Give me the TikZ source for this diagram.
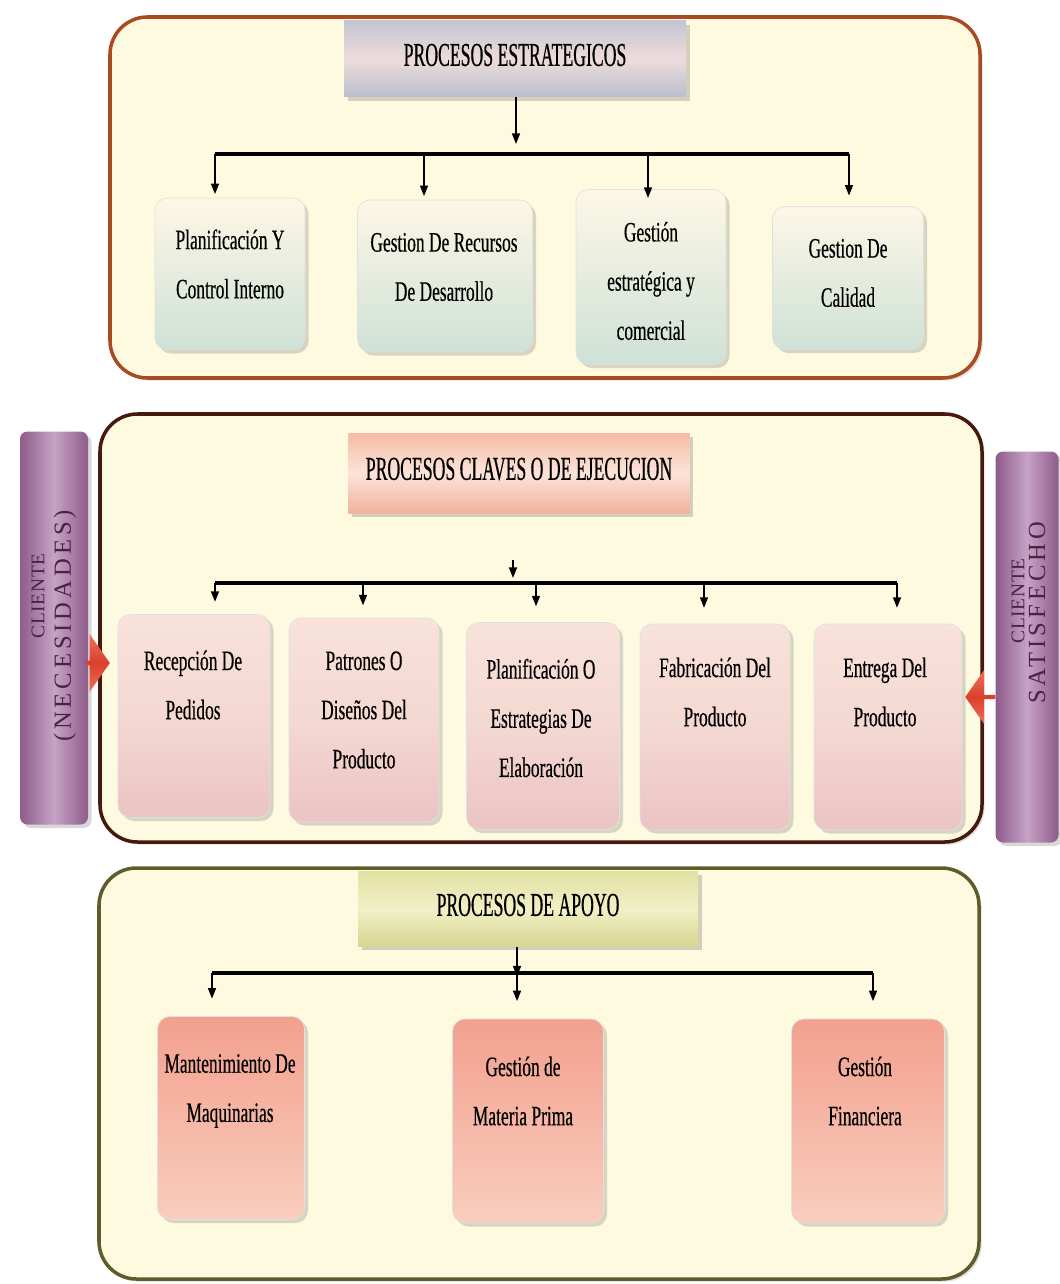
\documentclass[tikz,border=0pt]{standalone}
\usepackage{fontspec}
\setmainfont[FakeStretch=0.62,FakeBold=0.4]{Liberation Serif}
\newfontfamily\hdrfont[FakeStretch=0.53,FakeBold=0.5]{Liberation Serif}
\newfontfamily\sidefontA[LetterSpace=4]{Liberation Serif}
\newfontfamily\sidefontB[LetterSpace=16]{Liberation Serif}
\usetikzlibrary{shadows,shapes.arrows,arrows.meta}
\definecolor{cream}{HTML}{FEFADF}
\definecolor{frameA}{HTML}{A84A22}
\definecolor{frameB}{HTML}{45190E}
\definecolor{frameC}{HTML}{5E5C2A}
\definecolor{purpleA}{HTML}{8E5C8A}
\definecolor{purpleB}{HTML}{C6A2C6}
\definecolor{purpleT}{HTML}{4A2246}
\definecolor{redA}{HTML}{D9402C}
\definecolor{redB}{HTML}{F0705A}
\definecolor{tTop}{HTML}{FDF7E6}
\definecolor{tBot}{HTML}{CFE1D7}
\definecolor{mTop}{HTML}{F8E2DA}
\definecolor{mMid}{HTML}{F4D8D2}
\definecolor{mBot}{HTML}{EBC3C3}
\definecolor{bTop}{HTML}{F3A08E}
\definecolor{bBot}{HTML}{F9CDBE}
\definecolor{hAtop}{HTML}{C2C5D3}
\definecolor{hAmid}{HTML}{EEDCDC}
\definecolor{hAbot}{HTML}{B9BECC}
\definecolor{hBtop}{HTML}{F4BCA6}
\definecolor{hBmid}{HTML}{FCE4D8}
\definecolor{hBbot}{HTML}{EFB39E}
\definecolor{hCtop}{HTML}{E2E1A4}
\definecolor{hCmid}{HTML}{F1F0C6}
\definecolor{hCbot}{HTML}{D6D590}
\begin{document}
\begin{tikzpicture}[x=0.02cm,y=-0.02cm,
  sz/.style 2 args={minimum width=#1*0.02cm, minimum height=#2*0.02cm},
  frame/.style={draw, line width=2pt, rounded corners=0.75cm, fill=cream,
     drop shadow={opacity=0.25, shadow xshift=1.5pt, shadow yshift=-1.5pt}},
  hdr/.style={rectangle, inner sep=0pt,
     drop shadow={opacity=0.35, shadow xshift=2pt, shadow yshift=-2pt}},
  hdrtxt/.style={font=\hdrfont\fontsize{19}{22}\selectfont, inner sep=0pt},
  box/.style={rectangle, rounded corners=0.25cm, inner sep=0pt, draw=black!12, line width=0.4pt,
     drop shadow={opacity=0.3, shadow xshift=2pt, shadow yshift=-2pt}},
  boxT/.style={box, top color=tTop, bottom color=tBot},
  boxM/.style={box, top color=mTop, bottom color=mBot, middle color=mMid},
  boxB/.style={box, top color=bTop, bottom color=bBot},
  txt/.style={font=\fontsize{16}{28}\selectfont, align=center, inner sep=0pt},
  side/.style={rectangle, rounded corners=0.15cm, inner sep=0pt, left color=purpleA, right color=purpleA, middle color=purpleB,
     drop shadow={opacity=0.3, shadow xshift=2pt, shadow yshift=-2pt}},
  sideA/.style={font=\sidefontA\fontsize{11}{13}\selectfont, text=purpleT, rotate=90, inner sep=0pt},
  sideB/.style={font=\sidefontB\fontsize{14}{16}\selectfont, text=purpleT, rotate=90, inner sep=0pt},
  conn/.style={line width=1pt, -{Triangle[length=6pt,width=4.5pt]}},
  bar/.style={line width=1.8pt},
  redarr/.style={single arrow, inner sep=0pt, single arrow head extend=0.08cm, single arrow tip angle=110,
     top color=redB, bottom color=redB, middle color=redA, draw=none}
]
\useasboundingbox (0,0) rectangle (1059,1284);
\fill[white] (0,0) rectangle (1059,1284);

% ---------------- frames
\draw[frame, draw=frameA] (110,17) rectangle (980,378);
\draw[frame, draw=frameB] (100,414) rectangle (982,842);
\draw[frame, draw=frameC] (99,868) rectangle (979,1279);

% ---------------- top section
\node[hdr, sz={342}{76}, top color=hAtop, bottom color=hAbot, middle color=hAmid] (th) at (515,59) {};
\node[hdrtxt] (thtxt) at (515,55) {PROCESOS ESTRATEGICOS};

\node[boxT, sz={150}{152}] (t1) at (230,274) {};
\node[boxT, sz={175}{152}] (t2) at (445,276) {};
\node[boxT, sz={150}{175}] (t3) at (651,277) {};
\node[boxT, sz={151}{143}] (t4) at (848,278) {};
\node[txt] (t1txt) at (230,264) {Planificación Y\\Control Interno};
\node[txt] (t2txt) at (444,267) {Gestion De Recursos\\De Desarrollo};
\node[txt] (t3txt) at (651,281) {Gestión\\estratégica y\\comercial};
\node[txt] (t4txt) at (848,273) {Gestion De\\Calidad};

\coordinate (ta) at (516,144);
\coordinate (tb1) at (215,154);
\coordinate (tb2) at (424,154);
\coordinate (tb3) at (648,154);
\coordinate (tb4) at (849,154);
\draw[conn] (th.south -| ta) -- (ta);
\draw[bar] (tb1) -- (tb4);
\draw[conn] (tb1) -- ([yshift=2pt]tb1 |- t1.north);
\draw[conn] (tb2) -- ([yshift=2pt]tb2 |- t2.north);
\draw[conn] (tb3) -- ([yshift=-5pt]tb3 |- t3.north);
\draw[conn] (tb4) -- ([yshift=6pt]tb4 |- t4.north);

% ---------------- middle section
\node[hdr, sz={341}{80}, top color=hBtop, bottom color=hBbot, middle color=hBmid] (mh) at (519,473) {};
\node[hdrtxt] (mhtxt) at (519,469) {PROCESOS CLAVES O DE EJECUCION};

\node[boxM, sz={152}{203}] (m1) at (194,716) {};
\node[boxM, sz={150}{204}] (m2) at (364,720) {};
\node[boxM, sz={153}{207}] (m3) at (543,726) {};
\node[boxM, sz={150}{206}] (m4) at (715,727) {};
\node[boxM, sz={148}{206}] (m5) at (888,727) {};
\node[txt] (m1txt) at (193,685) {Recepción De\\Pedidos};
\node[txt] (m2txt) at (364,710) {Patrones O\\Diseños Del\\Producto};
\node[txt] (m3txt) at (541,718) {Planificación O\\Estrategias De\\Elaboración};
\node[txt] (m4txt) at (715,692) {Fabricación Del\\Producto};
\node[txt] (m5txt) at (885,692) {Entrega Del\\Producto};

\coordinate (ma0) at (513,560);
\coordinate (ma) at (513,578);
\coordinate (mb1) at (215,583);
\coordinate (mb2) at (363,583);
\coordinate (mb3) at (536,583);
\coordinate (mb4) at (704,583);
\coordinate (mb5) at (897,583);
\draw[conn] (ma0) -- (ma);
\draw[bar] (mb1) -- (mb5);
\draw[conn] (mb1) -- ([yshift=7pt]mb1 |- m1.north);
\draw[conn] (mb2) -- ([yshift=7pt]mb2 |- m2.north);
\draw[conn] (mb3) -- ([yshift=9pt]mb3 |- m3.north);
\draw[conn] (mb4) -- ([yshift=9pt]mb4 |- m4.north);
\draw[conn] (mb5) -- ([yshift=9pt]mb5 |- m5.north);

% side bars
\node[side, sz={68}{393}] (lb) at (54,628) {};
\node[sideA] (lbtxtA) at (38,596) {CLIENTE};
\node[sideB] (lbtxtB) at (65,626) {(NECESIDADES)};
\node[side, sz={63}{391}] (rb) at (1027,647) {};
\node[sideA] (rbtxtA) at (1018,601) {CLIENTE};
\node[sideB] (rbtxtB) at (1037,613) {SATISFECHO};

\node[redarr, minimum width=58*0.02cm, minimum height=24*0.02cm] (la) at (97,663) {};
\node[redarr, shape border rotate=180, minimum width=54*0.02cm, minimum height=30*0.02cm] (ra) at (981,697) {};

% ---------------- bottom section
\node[hdr, sz={340}{75}, top color=hCtop, bottom color=hCbot, middle color=hCmid] (bh) at (528,909) {};
\node[hdrtxt] (bhtxt) at (528,905) {PROCESOS DE APOYO};

\node[boxB, sz={147}{203}] (b1) at (231,1118) {};
\node[boxB, sz={151}{204}] (b2) at (528,1121) {};
\node[boxB, sz={153}{204}] (b3) at (868,1121) {};
\node[txt] (b1txt) at (230,1091) {Mantenimiento De\\Maquinarias};
\node[txt] (b2txt) at (523,1091) {Gestión de\\Materia Prima};
\node[txt] (b3txt) at (865,1091) {Gestión\\Financiera};

\coordinate (bb1) at (212,973);
\coordinate (bb2) at (517,973);
\coordinate (bb3) at (873,973);
\draw[conn] (bh.south -| bb2) -- ([yshift=-2pt]bb2);
\draw[bar] (bb1) -- (bb3);
\draw[conn] (bb1) -- ([yshift=0.35cm]bb1 |- b1.north);
\draw[conn] (bb2) -- ([yshift=0.35cm]bb2 |- b2.north);
\draw[conn] (bb3) -- ([yshift=0.35cm]bb3 |- b3.north);
\end{tikzpicture}
\end{document}
